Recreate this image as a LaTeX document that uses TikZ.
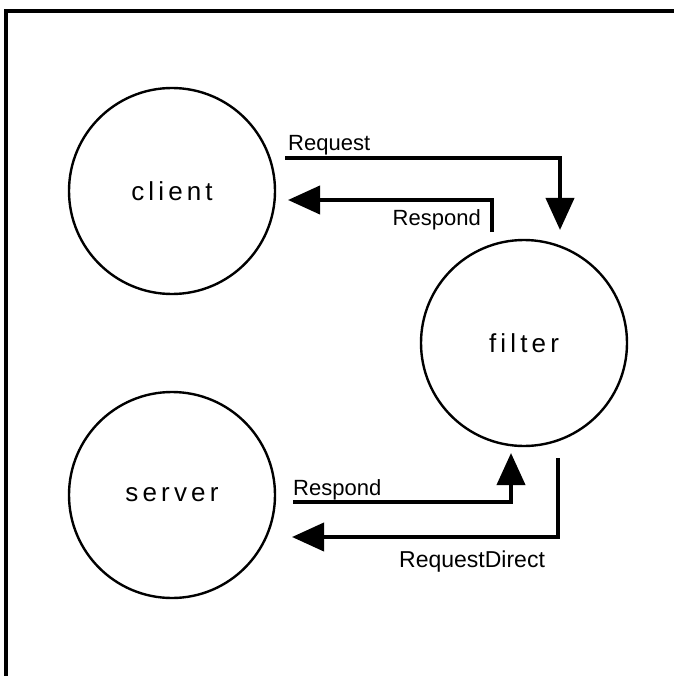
\documentclass[tikz,border=0pt]{standalone}
\usepackage{fontspec}
\setmainfont{Liberation Sans}
\newfontfamily\procfont[LetterSpace=16]{Liberation Sans}
\usetikzlibrary{arrows.meta}
\tikzset{
  proc/.style={circle, draw, line width=2.4pt, minimum size=206pt, inner sep=0pt,
    font=\procfont\fontsize{26}{30}\selectfont},
  flow/.style={line width=4pt, -{Triangle[length=32pt,width=28pt]}},
  lbl/.style={font=\fontsize{22}{26}\selectfont, inner sep=0pt},
}
\begin{document}
\begin{tikzpicture}[x=1pt, y=-1pt]
    \useasboundingbox (0,0) rectangle (674,676);

    % Frame (runs off the page at right and bottom)
    \draw[line width=3.5pt] (6,676) -- (6,11) -- (674,11);

    % Processes
    \node[proc] (client) at (172,191) {client};
    \node[proc] (filter) at (524,343) {filter};
    \node[proc] (server) at (172,495) {server};

    % Free ends of the flows
    \coordinate (req-a) at (285,158);
    \coordinate (req-b) at (560,230);
    \coordinate (rsp-a) at (492,232);
    \coordinate (rsp-b) at (288,200);
    \coordinate (srsp-a) at (293,502);
    \coordinate (srsp-b) at (511,453);
    \coordinate (rqd-a) at (558,458);
    \coordinate (rqd-b) at (292,537);

    % Flows: client <-> filter
    \draw[flow] (req-a) -| (req-b);
    \draw[flow] (rsp-a) |- (rsp-b);
    \node[lbl, anchor=base west] (req-lbl) at (288,151) {Request};
    \node[lbl, anchor=base east] (rsp-lbl) at (481,225) {Respond};

    % Flows: server <-> filter
    \draw[flow] (srsp-a) -| (srsp-b);
    \draw[flow] (rqd-a) |- (rqd-b);
    \node[lbl, anchor=base west] (srsp-lbl) at (293,495) {Respond};
    \node[lbl, anchor=base west, font=\fontsize{23}{27}\selectfont] (rqd-lbl) at (399,567) {RequestDirect};
\end{tikzpicture}
\end{document}
